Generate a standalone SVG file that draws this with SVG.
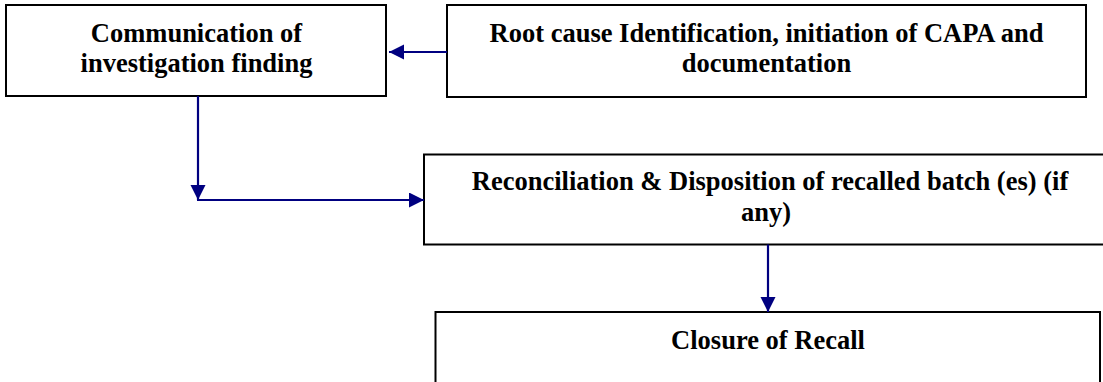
<svg xmlns="http://www.w3.org/2000/svg" width="1103" height="382" viewBox="0 0 1103 382">
  <style>
    .box { fill: #ffffff; stroke: #000000; stroke-width: 2; }
    .lbl { font-family: "Liberation Serif", "Times New Roman", serif; font-weight: bold; font-size: 26.5px; fill: #000000; text-anchor: middle; }
    .conn { fill: none; stroke: #000080; stroke-width: 2.2; }
  </style>
  <defs>
    <marker id="arrow" markerUnits="userSpaceOnUse" markerWidth="16" markerHeight="16" refX="15" refY="7.5" orient="auto">
      <path d="M0,0 L15,7.5 L0,15 z" fill="#000080"/>
    </marker>
  </defs>
  <rect x="0" y="0" width="1103" height="382" fill="#ffffff"/>

  <g id="node-communication">
    <rect class="box" x="6" y="5" width="380" height="91"/>
    <text class="lbl" x="196.5" y="42">Communication of</text>
    <text class="lbl" x="196.5" y="72">investigation finding</text>
  </g>

  <g id="node-rootcause">
    <rect class="box" x="447" y="5" width="639" height="92"/>
    <text class="lbl" x="766.5" y="42">Root cause Identification, initiation of CAPA and</text>
    <text class="lbl" x="766.5" y="72">documentation</text>
  </g>

  <g id="node-reconciliation">
    <rect class="box" x="424" y="154.5" width="690" height="90"/>
    <text class="lbl" x="770" y="190">Reconciliation &amp; Disposition of recalled batch (es) (if</text>
    <text class="lbl" x="766" y="221">any)</text>
  </g>

  <g id="node-closure">
    <rect class="box" x="435.5" y="312" width="664.5" height="80"/>
    <text class="lbl" x="768" y="349">Closure of Recall</text>
  </g>

  <g id="connectors">
    <path class="conn" d="M447,52 L389,52" marker-end="url(#arrow)"/>
    <path class="conn" d="M198,96 L198,200" marker-end="url(#arrow)"/>
    <path class="conn" d="M197,200 L424,200" marker-end="url(#arrow)"/>
    <path class="conn" d="M768,244.5 L768,312" marker-end="url(#arrow)"/>
  </g>
</svg>
